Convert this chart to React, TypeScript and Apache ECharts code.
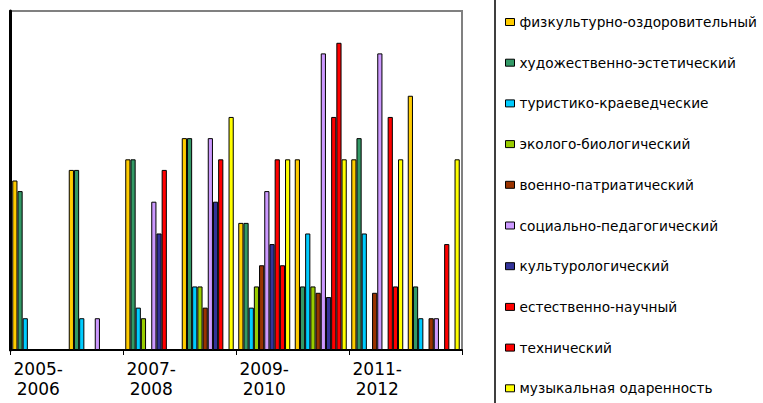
import React, { useEffect, useRef } from "react";
import * as echarts from "echarts";

const categories = ["2005-\n2006", "2006-\n2007", "2007-\n2008", "2008-\n2009", "2009-\n2010", "2010-\n2011", "2011-\n2012", "2012-\n2013"];

const seriesNames = [
  "физкультурно-оздоровительный",
  "художественно-эстетический",
  "туристико-краеведческие",
  "эколого-биологический",
  "военно-патриатический",
  "социально-педагогический",
  "культурологический",
  "естественно-научный",
  "технический",
  "музыкальная одаренность",
];

const seriesColors = ["#FFCC00", "#339966", "#00CCFF", "#99CC00", "#993300", "#CC99FF", "#333399", "#FF0000", "#FF0000", "#FFFF00"];

const fizkult = [16, 17, 18, 20, 12, 18, 18, 24];
const hudozh = [15, 17, 18, 20, 12, 6, 20, 6];
const turist = [3, 3, 4, 6, 4, 11, 11, 3];
const ekolog = [0, 0, 3, 6, 6, 6, 0, 0];
const voenno = [0, 0, 0, 4, 8, 5.4, 5.4, 3];
const social = [0, 3, 14, 20, 15, 28, 28, 3];
const kultur = [0, 0, 11, 14, 10, 5, 0, 0];
const estestv = [0, 0, 17, 18, 18, 22, 22, 10];
const tehnich = [0, 0, 0, 0, 8, 29, 6, 0];
const muzyk = [0, 0, 0, 22, 18, 18, 18, 18];

const seriesValues = [fizkult, hudozh, turist, ekolog, voenno, social, kultur, estestv, tehnich, muzyk];

export default function App() {
  const ref = useRef<HTMLDivElement>(null);
  useEffect(() => {
    if (!ref.current) return;
    const chart = echarts.init(ref.current, null, { renderer: "svg" });
    chart.setOption({
      animation: false,
      backgroundColor: "#ffffff",
      grid: {
        left: 10,
        top: 11,
        right: 301,
        bottom: 53,
        show: true,
        borderColor: "#808080",
        borderWidth: 2,
        backgroundColor: "transparent",
      },
      legend: {
        orient: "vertical",
        left: 505,
        top: 15,
        padding: 0,
        itemWidth: 9,
        itemHeight: 7,
        itemGap: 26.7,
        itemTextGap: 5,
        icon: "rect",
        itemStyle: { borderColor: "#000", borderWidth: 1 },
        textStyle: { fontFamily: "DejaVu Sans", fontSize: 13.7, color: "#000", lineHeight: 14 },
        data: seriesNames,
      },
      xAxis: {
        type: "category",
        data: categories,
        axisLine: { lineStyle: { color: "#000", width: 2 } },
        axisTick: { show: true, length: 5, lineStyle: { color: "#000", width: 1 } },
        axisLabel: {
          interval: 1,
          fontFamily: "DejaVu Sans",
          fontSize: 17,
          lineHeight: 20,
          color: "#000",
          margin: 9,
        },
        splitLine: { show: false },
      },
      yAxis: {
        type: "value",
        min: 0,
        max: 32,
        axisLine: { show: true, lineStyle: { color: "#000", width: 3 } },
        axisTick: { show: false },
        axisLabel: { show: false },
        splitLine: { show: false },
      },
      graphic: [
        {
          type: "rect",
          shape: { x: 495, y: -5, width: 300, height: 420 },
          style: { fill: "none", stroke: "#000", lineWidth: 1.5 },
          silent: true,
        },
      ],
      series: seriesNames.map((name, i) => ({
        name,
        type: "bar",
        data: seriesValues[i],
        barGap: "0%",
        barCategoryGap: "8%",
        itemStyle: { color: seriesColors[i], borderColor: "#000", borderWidth: 1 },
      })),
    });
    return () => chart.dispose();
  }, []);
  return <div ref={ref} style={{ position: "fixed", left: 0, top: 0, width: 763, height: 403 }} />;
}
